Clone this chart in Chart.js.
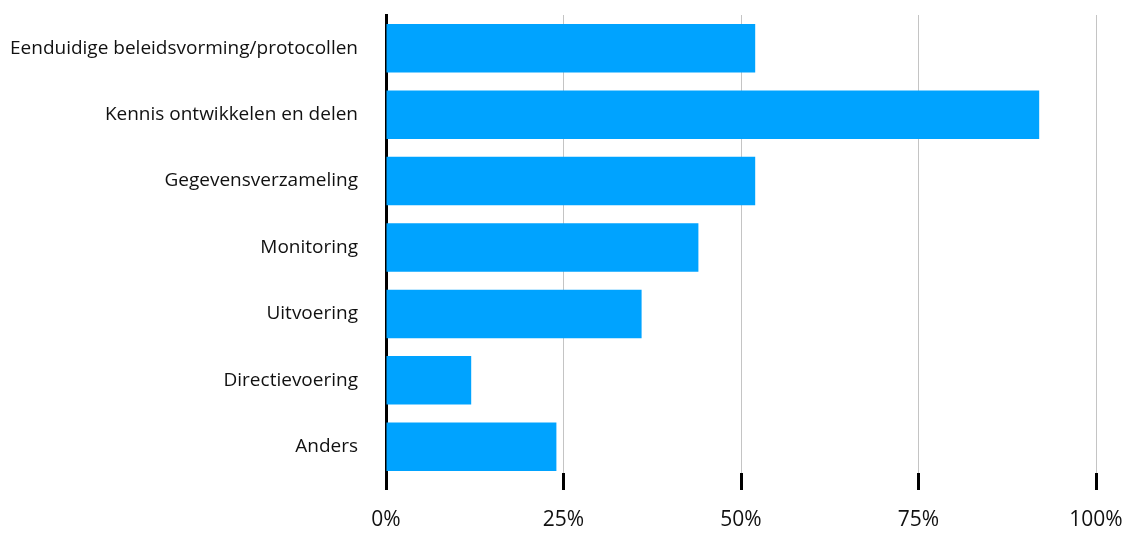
<!DOCTYPE html>
<html>
<head>
<meta charset="utf-8">
<script src="https://cdn.jsdelivr.net/npm/chart.js@4/dist/chart.umd.min.js"></script>
<style>
  html, body { margin: 0; padding: 0; background: #fff; }
  #wrap { width: 1133px; height: 535px; }
</style>
</head>
<body>
<div id="wrap"><canvas id="barChart"></canvas></div>
<script>
const categories = [
  'Eenduidige beleidsvorming/protocollen',
  'Kennis ontwikkelen en delen',
  'Gegevensverzameling',
  'Monitoring',
  'Uitvoering',
  'Directievoering',
  'Anders'
];
const percentages = [52, 92, 52, 44, 36, 12, 24];
const tickValues = [0, 25, 50, 75, 100];

// the black tick marks start a little above the bottom of the plot area
const tickOverlap = {
  id: 'tickOverlap',
  afterDraw(chart) {
    const ctx = chart.ctx;
    const x = chart.scales.x;
    const bottom = chart.chartArea.bottom;
    ctx.save();
    ctx.strokeStyle = '#000';
    ctx.lineWidth = 3;
    tickValues.forEach(v => {
      // same pixel alignment as chart.js uses for a 3px line
      const px = Math.round(x.getPixelForValue(v) - 1.5) + 1.5;
      ctx.beginPath();
      ctx.moveTo(px, bottom - 7);
      ctx.lineTo(px, bottom + 1);
      ctx.stroke();
    });
    ctx.restore();
  }
};

const data = {
  labels: categories,
  datasets: [{
    label: 'Percentage',
    data: percentages,
    backgroundColor: '#00a3ff',
    borderWidth: 0,
    barPercentage: 0.73,
    categoryPercentage: 1
  }]
};

const config = {
  type: 'bar',
  data,
  plugins: [tickOverlap],
  options: {
    indexAxis: 'y',
    responsive: true,
    maintainAspectRatio: false,
    animation: false,
    layout: { padding: { top: 15, right: 37, bottom: 0, left: 0 } },
    plugins: {
      legend: { display: false },
      tooltip: { enabled: false }
    },
    scales: {
      x: {
        min: 0,
        max: 100,
        afterBuildTicks: scale => {
          scale.ticks = tickValues.map(v => ({ value: v }));
        },
        afterFit: scale => {
          scale.height = 55;
          scale.paddingLeft = 0;
          scale.paddingRight = 0;
        },
        grid: {
          color: '#c4c4c4',
          lineWidth: 1,
          tickColor: '#000',
          tickLength: 10,
          tickWidth: 3
        },
        border: { display: false },
        ticks: {
          padding: 17,
          color: '#111',
          font: { family: '"Open Sans"', size: 21 },
          callback: v => v + '%'
        }
      },
      y: {
        z: 1,
        afterFit: scale => {
          scale.width = 386;
          scale.paddingTop = 0;
          scale.paddingBottom = 0;
        },
        grid: { drawOnChartArea: false, drawTicks: false },
        border: { display: true, color: '#000', width: 3 },
        ticks: {
          padding: 28,
          color: '#111',
          font: { family: '"Open Sans"', size: 19 }
        }
      }
    }
  }
};

new Chart(document.getElementById('barChart'), config);
</script>
</body>
</html>
